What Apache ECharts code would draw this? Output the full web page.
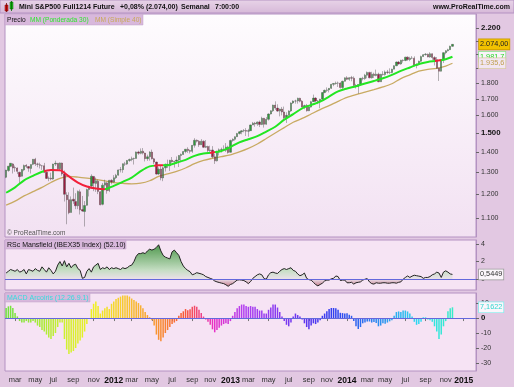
<!DOCTYPE html>
<html><head><meta charset="utf-8">
<script src="https://cdn.jsdelivr.net/npm/echarts@6/dist/echarts.min.js"></script>
<style>html,body{margin:0;padding:0;background:#e2c8e2;}#c{width:514px;height:387px;}</style>
</head><body><div id="c"></div>
<script>
// ---------- DATA ----------
const startDate = '2011-02-04';   // first weekly bar
const weekCount = 210;            // categories on the time axis (incl. empty weeks to Feb 2015)
const monthNames = ['ene','feb','mar','abr','may','jun','jul','ago','sep','oct','nov','dic'];

// weekly candles [open, close, low, high]
const ohlc = [
[1276,1310,1272,1311],[1308,1329,1302,1330],[1328,1343,1324,1344],[1340,1320,1294,1344],[1322,1321,1302,1332],[1320,1304,1291,1323],[1300,1279,1249,1302],[1281,1313,1280,1315],[1311,1332,1305,1337],[1333,1328,1320,1339],
[1327,1319,1302,1330],[1318,1337,1294,1338],[1338,1363,1334,1364],[1363,1340,1330,1370],[1340,1338,1324,1346],[1336,1333,1318,1346],[1331,1331,1311,1335],[1331,1300,1296,1345],[1300,1271,1268,1303],[1272,1271,1258,1280],
[1272,1268,1262,1298],[1268,1339,1265,1341],[1339,1343,1330,1356],[1343,1316,1309,1344],[1317,1345,1305,1347],[1344,1292,1283,1346],[1292,1199,1168,1308],[1196,1176,1075,1208],[1176,1121,1115,1208],[1122,1176,1122,1190],
[1178,1170,1158,1229],[1168,1150,1136,1204],[1150,1212,1136,1216],[1210,1133,1114,1220],[1134,1128,1125,1192],[1126,1151,1066,1170],[1152,1220,1150,1224],[1220,1234,1190,1237],[1236,1281,1225,1290],[1280,1249,1213,1282],
[1248,1260,1210,1275],[1258,1212,1200,1265],[1210,1154,1152,1213],[1156,1240,1152,1250],[1240,1251,1220,1265],[1250,1215,1202,1255],[1216,1262,1209,1264],[1262,1254,1244,1267],
[1254,1274,1252,1286],[1274,1285,1268,1292],[1286,1311,1284,1313],[1312,1312,1299,1325],[1312,1341,1297,1342],[1340,1339,1330,1350],[1339,1357,1335,1359],[1357,1362,1350,1366],[1362,1366,1353,1376],[1366,1367,1337,1371],
[1367,1400,1366,1402],[1400,1393,1385,1406],[1393,1404,1388,1418],[1404,1394,1387,1420],[1394,1366,1352,1396],[1366,1375,1355,1386],[1375,1399,1356,1404],[1399,1365,1362,1412],[1365,1349,1339,1370],[1349,1291,1288,1351],
[1292,1314,1287,1323],[1315,1273,1262,1331],[1273,1321,1258,1326],[1321,1338,1303,1342],[1338,1331,1320,1361],[1331,1358,1306,1360],[1358,1351,1346,1374],[1351,1353,1322,1355],[1353,1359,1340,1377],[1359,1382,1325,1384],
[1382,1387,1352,1392],[1387,1402,1385,1405],[1402,1414,1393,1415],[1414,1407,1395,1424],[1407,1403,1392,1412],[1403,1434,1395,1436],[1434,1461,1422,1472],[1461,1456,1449,1465],[1456,1437,1426,1462],[1437,1456,1436,1467],
[1456,1424,1420,1460],[1424,1428,1420,1462],[1428,1407,1397,1432],[1407,1410,1400,1432],[1410,1375,1368,1430],[1375,1355,1340,1390],[1355,1404,1352,1406],[1404,1411,1382,1418],[1411,1413,1397,1422],[1413,1409,1404,1434],
[1409,1425,1400,1446],[1425,1397,1391,1432],
[1398,1460,1396,1464],[1460,1466,1453,1471],[1466,1480,1459,1482],[1480,1497,1478,1501],[1497,1507,1492,1510],[1507,1512,1493,1515],[1512,1514,1504,1522],[1514,1510,1484,1527],[1510,1513,1480,1523],[1513,1545,1512,1547],
[1545,1555,1544,1562],[1555,1550,1535,1562],[1550,1562,1540,1565],[1562,1548,1533,1570],[1548,1583,1544,1592],[1583,1549,1530,1585],[1549,1577,1546,1590],[1577,1608,1570,1612],[1608,1627,1605,1630],[1627,1661,1620,1664],
[1661,1643,1632,1684],[1643,1625,1620,1666],[1625,1637,1594,1640],[1637,1620,1600,1650],[1620,1586,1570,1652],[1586,1600,1556,1618],[1600,1626,1598,1630],[1626,1674,1620,1678],[1674,1686,1668,1690],[1686,1686,1670,1694],
[1686,1703,1670,1707],[1703,1685,1678,1706],[1685,1650,1648,1692],[1650,1658,1636,1664],[1658,1627,1622,1668],[1627,1649,1625,1660],[1649,1682,1646,1687],[1682,1704,1680,1726],[1704,1686,1680,1710],[1686,1684,1667,1692],
[1684,1697,1642,1700],[1697,1739,1690,1741],[1739,1753,1735,1758],[1753,1756,1742,1772],[1756,1766,1740,1768],[1766,1792,1762,1795],[1792,1798,1780,1800],[1798,1800,1790,1810],[1800,1800,1775,1810],[1800,1771,1765,1806],
[1771,1812,1762,1816],[1812,1835,1810,1838],
[1835,1825,1820,1846],[1825,1836,1815,1840],[1836,1833,1812,1848],[1833,1784,1782,1845],[1784,1777,1765,1795],[1777,1791,1732,1793],[1791,1832,1790,1834],[1832,1830,1818,1842],[1830,1853,1822,1862],[1853,1872,1832,1878],
[1872,1835,1832,1876],[1835,1860,1830,1876],[1860,1851,1834,1870],[1851,1860,1845,1891],[1860,1809,1806,1870],[1809,1859,1808,1862],[1859,1857,1850,1880],[1857,1875,1850,1885],[1875,1872,1860,1889],[1872,1871,1860,1900],
[1871,1894,1866,1897],[1894,1918,1893,1921],[1918,1944,1915,1948],[1944,1930,1926,1952],[1930,1957,1925,1960],[1957,1955,1940,1963],[1955,1979,1950,1982],[1979,1962,1953,1985],[1962,1972,1950,1982],[1972,1972,1965,1987],
[1972,1920,1913,1985],[1920,1925,1900,1935],[1925,1950,1920,1954],[1950,1983,1945,1990],[1983,1997,1980,2002],[1997,2001,1990,2009],[2001,1980,1978,2005],[1980,2004,1975,2015],[2004,1976,1960,2006],[1976,1961,1920,1986],
[1961,1900,1898,1980],[1900,1880,1814,1904],[1880,1958,1878,1962],[1958,2012,1937,2015],[2012,2026,2000,2030],[2026,2034,2020,2041],[2034,2059,2031,2064],[2059,2074,2055,2076]
];

// moving averages: [weekIndex, value]
const wmaPoints = [[0,1206],[4,1230],[8,1262],[12,1283],[16,1302],[20,1311],[24,1309],[28,1280],[32,1252],[36,1234],[40,1225],[44,1222],
[48,1237],[52,1255],[56,1275],[60,1305],[64,1328],[68,1333],[72,1334],[76,1346],[80,1360],[84,1380],[88,1392],[92,1397],[96,1405],
[100,1425],[104,1450],[108,1466],[112,1483],[116,1508],[120,1535],[124,1575],[128,1607],[132,1642],[136,1662],[140,1682],[144,1714],
[148,1746],[152,1765],[156,1780],[160,1798],[164,1814],[168,1832],[172,1855],[176,1882],[180,1906],[184,1930],[188,1945],[192,1953],[196,1964],[199,1981.7]];
const smaPoints = [[0,1153],[4,1170],[8,1192],[12,1211],[16,1230],[20,1252],[24,1271],[28,1280],[32,1277],[36,1272],[40,1266],[44,1259],
[48,1251],[52,1248],[56,1246],[60,1249],[64,1260],[68,1280],[72,1292],[76,1304],[80,1320],[84,1341],[88,1357],[92,1368],[96,1376],
[100,1385],[104,1400],[108,1418],[112,1441],[116,1470],[120,1500],[124,1530],[128,1560],[132,1582],[136,1608],[140,1634],[144,1658],
[148,1684],[152,1708],[156,1726],[160,1742],[164,1758],[168,1775],[172,1796],[176,1830],[180,1855],[184,1880],[188,1893],[192,1900],[196,1916],[199,1935.6]];
// WMA declining stretches (drawn red): [fromIndex, toIndex)
const wmaRedRanges = [[17,44],[66,70],[91,93],[191,194]];

const rscValues = [
0.7,0.9,1.1,1.0,0.9,1.1,0.8,0.9,1.1,0.6,
1.1,1.0,0.9,1.2,1.0,0.9,1.4,1.1,0.8,1.3,
1.0,0.6,0.9,1.6,2.0,1.5,2.1,1.4,1.8,1.3,
1.6,1.7,1.2,1.0,0.1,0.2,0.9,1.2,0.8,1.4,
1.6,1.8,1.1,1.3,1.2,1.4,1.1,1.3,1.2,1.3,
1.2,1.1,1.3,1.2,1.3,1.5,1.6,2.0,2.6,2.9,
2.9,3.0,2.9,3.2,3.4,3.3,3.4,3.6,3.9,3.2,
2.7,2.5,2.4,2.3,3.1,3.3,3.0,2.7,2.0,1.5,
1.2,1.0,0.85,0.5,0.6,0.74,0.67,0.6,0.5,0.3,
0.2,0.1,0.0,-0.2,-0.3,-0.37,-0.44,-0.5,-0.63,-0.8,
-0.6,-0.5,-0.3,-0.1,-0.07,-0.1,-0.15,-0.3,-0.5,-0.26,
0.1,0.3,0.5,0.6,0.5,0.07,0.0,0.5,0.74,0.8,
0.7,0.65,0.9,1.1,1.2,1.1,1.2,1.3,1.0,0.9,
0.6,0.4,0.5,0.7,0.1,-0.05,-0.1,-0.35,-0.6,-0.75,
-0.6,-0.45,-0.2,-0.1,-0.1,0.05,0.1,0.37,0.3,-0.15,
-0.1,-0.1,-0.4,-0.4,-0.35,-0.55,-0.4,-0.35,-0.3,-0.1,
0.0,0.07,-0.3,-0.5,-0.55,-0.4,-0.45,-0.45,-0.4,-0.4,
-0.45,-0.45,-0.4,-0.4,-0.45,-0.35,-0.3,0.0,0.2,0.37,
0.2,0.35,0.45,0.4,0.35,0.3,0.1,0.2,0.2,0.3,
0.5,0.6,0.8,0.7,0.2,0.8,0.95,0.8,0.6,0.5449];

const macdValues = [
6.7,7.8,8.2,6.7,3.3,1.1,-2,-3,-3,-2,
-3,-3,-2,-3,-5,-6,-8,-9,-11,-13,
-14,-12,-10,-6,-3,-3,-14,-21,-24,-23,
-22,-20,-17,-15,-13,-9,-4,-0.5,6,9.5,
11,8,3,5,6.5,7.5,6,9.5,11,12.7,
13.5,14.3,15,15,15,14.3,13,12,11,10,
8.5,6.5,4,2,0.5,-1.5,-5,-11,-14.5,-15.5,
-13,-10,-8,-6,-4,-3,-2,1.5,3.3,4.5,
6,5.2,5.8,7.5,8.2,7.5,5.5,3.3,1,-1,
-2.5,-4.5,-7.5,-9.5,-8,-6.5,-5,-4,-3.5,-4,
-2,1.5,4,6.5,8,9,9,8,7.5,8,
7.5,7.5,6,5,5,3,3,5.5,7,9,
9,7,4,1,-2,-4.5,-5.5,-3,1,3,
2,1,-1,-3.5,-6,-7.5,-5,-3.5,-4,-3,
-1.5,1.5,3,4.5,6,6.7,6.7,6.5,5.5,3.5,
3.3,3,3.2,2.2,1.5,-2,-5.5,-7.3,-6,-3.5,
-3,-2.3,-2.3,-3,-2.7,-3.3,-5.5,-5,-3.5,-3.8,
-3,-2.2,-1.5,1.5,4,4.4,4,5,5,4.4,
3,1,-2.5,-4.5,-4,-2.5,0.5,0.5,-1,-1.5,
-2.5,-5.5,-9,-14,-11,-5.5,-2,4.5,6.5,7.1622];

const priceTicks = [1100,1200,1300,1400,1500,1600,1700,1800,1900,2000,2100,2200];
const priceLabelTicks = [1100,1200,1300,1400,1500,1600,1700,1800,2200]; // 1.900-2.100 sit under the value boxes
const priceBoldTicks = [1500,2200];
const rscTicks = [0,2,4];
const macdTicks = [-30,-20,-10,0,10];

// ---------- BUILD ----------
const categories = [];
const t0 = Date.parse(startDate + 'T00:00:00Z');
for (let i = 0; i < weekCount; i++) categories.push(new Date(t0 + i * 7 * 864e5).toISOString().slice(0, 10));

const fmtNum = (v, d) => {
  const s = Math.abs(v).toFixed(d); const parts = s.split('.');
  let ip = parts[0]; if (ip.length > 3) ip = ip.slice(0, -3) + '.' + ip.slice(-3);
  return (v < 0 ? '-' : '') + ip + (parts[1] ? ',' + parts[1] : '');
};
const lastClose = ohlc[ohlc.length - 1][1];
const lastWma = wmaPoints[wmaPoints.length - 1][1];
const lastSma = smaPoints[smaPoints.length - 1][1];
const lastRsc = rscValues[rscValues.length - 1];
const lastMacd = macdValues[macdValues.length - 1];

const G = '#22e622', R = '#f2203a', TAN = '#c8aa62';
const wmaPieces = [];
let prev = -1;
wmaRedRanges.forEach(r => { wmaPieces.push({gte: prev, lt: r[0], color: G}); wmaPieces.push({gte: r[0], lt: r[1], color: R}); prev = r[1]; });
wmaPieces.push({gte: prev, lte: 1000, color: G});

const isLabelWeek = (i, v) => { const d = new Date(v + 'T00:00:00Z'); return d.getUTCDate() <= 7 && d.getUTCMonth() % 2 === 0; };
const FONT = 'Liberation Sans, Arial, sans-serif';
const FS = 7;
const border = '#b492c2';
const gridCommon = {left: 5, right: 38, show: true, borderColor: border, borderWidth: 1};
const hiddenX = (gi) => ({type: 'category', gridIndex: gi, data: categories, boundaryGap: true, axisLine: {show: false}, axisTick: {show: false}, axisLabel: {show: false}, splitLine: {show: false}});
const rightY = (gi, extra) => Object.assign({gridIndex: gi, position: 'right', splitLine: {show: false},
  axisLine: {show: true, lineStyle: {color: border}}}, extra);
const boxLabel = (txt, color, bg, bc) => ({position: 'end', distance: 3, formatter: txt, color: color, backgroundColor: bg, borderColor: bc, borderWidth: 0.8,
  padding: [2, 1, 1, 1], fontSize: FS + 0.3, fontFamily: FONT});
const markLab = (val, txt, color, bg, bc) => ({silent: true, symbol: 'none', animation: false,
  lineStyle: {color: 'transparent', width: 0}, data: [{yAxis: val}], label: boxLabel(txt, color, bg, bc)});

const chart = echarts.init(document.getElementById('c'));
chart.setOption({
  animation: false,
  backgroundColor: '#e2c8e2',
  textStyle: {fontFamily: FONT},
  grid: [
    Object.assign({top: 14, height: 223, backgroundColor: new echarts.graphic.LinearGradient(0, 0, 0, 1, [{offset: 0, color: '#fefcfe'}, {offset: 1, color: '#f2e1f2'}])}, gridCommon),
    Object.assign({top: 240, height: 50, backgroundColor: '#f6e4f4'}, gridCommon),
    Object.assign({top: 293, height: 78, backgroundColor: '#f6e3f4'}, gridCommon)
  ],
  xAxis: [hiddenX(0), hiddenX(1), {
    type: 'category', gridIndex: 2, data: categories, boundaryGap: true,
    axisLine: {show: false},
    axisTick: {show: true, length: 3, interval: isLabelWeek, alignWithLabel: true, lineStyle: {color: '#777'}},
    axisLabel: {interval: isLabelWeek, margin: 5, fontSize: FS + 0.5, color: '#333', fontFamily: FONT,
      formatter: v => { const d = new Date(v + 'T00:00:00Z'); const m = d.getUTCMonth(); return m === 0 ? '{y|' + d.getUTCFullYear() + '}' : monthNames[m]; },
      rich: {y: {fontSize: 8.5, fontWeight: 'bold', color: '#111', fontFamily: FONT}}},
    splitLine: {show: false}
  }],
  yAxis: [
    rightY(0, {type: 'log', logBase: 10, min: 1026, max: 2317,
      axisTick: {show: true, length: 3, customValues: priceTicks, lineStyle: {color: '#666'}},
      axisLabel: {customValues: priceLabelTicks, fontSize: FS, color: '#333', margin: 5, fontFamily: FONT,
        formatter: v => { const r = Math.round(v); const s = fmtNum(r, 0); return priceBoldTicks.includes(r) ? '{b|' + s + '}' : s; },
        rich: {b: {fontWeight: 'bold', color: '#111', fontSize: FS + 0.8, fontFamily: FONT}}}}),
    rightY(1, {type: 'value', min: -1.22, max: 4.44,
      axisTick: {show: true, length: 3, customValues: rscTicks, lineStyle: {color: '#666'}},
      axisLabel: {customValues: rscTicks, fontSize: FS, color: '#333', margin: 5, fontFamily: FONT}}),
    rightY(2, {type: 'value', min: -35.3, max: 16.7,
      axisTick: {show: true, length: 3, customValues: macdTicks, lineStyle: {color: '#666'}},
      axisLabel: {customValues: macdTicks, fontSize: FS, color: '#333', margin: 5, fontFamily: FONT,
        formatter: v => v === 0 ? '{b|0}' : String(v), rich: {b: {fontWeight: 'bold', color: '#111', fontSize: FS + 0.8, fontFamily: FONT}}}})
  ],
  visualMap: [
    {type: 'piecewise', show: false, seriesIndex: 1, dimension: 0, pieces: wmaPieces},
    {type: 'continuous', show: false, seriesIndex: 3, dimension: 1, min: -2, max: 4,
      inRange: {color: ['#a03048', '#ba6272', '#ebe0ea', '#c6dec4', '#9cc69a', '#74ae72', '#4c944c']}},
    {type: 'continuous', show: false, seriesIndex: 4, dimension: 0, min: 0, max: 199,
      inRange: {color: ['#70e040', '#a0ea38', '#d0f030', '#f0f020', '#f8c830', '#f89830', '#f85838', '#e830c8', '#b040f0', '#8c3cf0', '#6034f0', '#3040f0', '#2c70f0', '#2ca8f0', '#30e0f0', '#38ecc8']}}
  ],
  series: [
    {type: 'candlestick', xAxisIndex: 0, yAxisIndex: 0, data: ohlc, barWidth: 1.8,
      itemStyle: {color: '#2f9a3c', color0: '#9a1c40', borderColor: '#444', borderColor0: '#444', borderWidth: 0.4},
      markLine: markLab(lastClose, fmtNum(lastClose, 2), '#222', '#f2c200', '#c89a00'), z: 3},
    {type: 'line', xAxisIndex: 0, yAxisIndex: 0, data: wmaPoints, smooth: 0.3, showSymbol: false, connectNulls: true,
      lineStyle: {width: 2}, z: 4,
      markLine: markLab(lastWma, fmtNum(lastWma, 1), '#22d822', '#faf4fa', '#8ce08c')},
    {type: 'line', xAxisIndex: 0, yAxisIndex: 0, data: smaPoints, smooth: 0.3, showSymbol: false, connectNulls: true,
      lineStyle: {width: 1.3, color: TAN}, itemStyle: {color: TAN}, z: 2,
      markLine: markLab(lastSma, fmtNum(lastSma, 1), '#c0a050', '#f2e6f2', '#d8c8a0')},
    {type: 'line', xAxisIndex: 1, yAxisIndex: 1, data: rscValues, showSymbol: false,
      lineStyle: {width: 1, color: '#222'}, areaStyle: {opacity: 1},
      markLine: {silent: true, symbol: 'none', animation: false, data: [{yAxis: 0, label: {show: false}, lineStyle: {color: '#6468dc', width: 1, type: 'solid'}},
        {yAxis: lastRsc, lineStyle: {color: 'transparent', width: 0}, label: boxLabel(fmtNum(lastRsc, 4), '#333', '#fbf6fb', '#999')}]}},
    {type: 'bar', xAxisIndex: 2, yAxisIndex: 2, data: macdValues, barWidth: 1.5,
      markLine: {silent: true, symbol: 'none', animation: false, data: [{yAxis: 0, label: {show: false}, lineStyle: {color: '#6468dc', width: 1, type: 'solid'}},
        {yAxis: lastMacd, lineStyle: {color: 'transparent', width: 0}, label: boxLabel(fmtNum(lastMacd, 4), '#30d8d0', '#fbf6fb', '#8ee')}]}}
  ],
  graphic: [
    {type: 'rect', z: 100, shape: {x: 0, y: 0, width: 514, height: 13}, style: {fill: new echarts.graphic.LinearGradient(0, 0, 0, 1, [{offset: 0, color: '#e8d4e8'}, {offset: 1, color: '#d6b8d8'}]), stroke: border, lineWidth: 1}},
    {type: 'rect', z: 101, shape: {x: 5, y: 5, width: 3, height: 6}, style: {fill: '#e02020', stroke: '#700', lineWidth: 0.5}},
    {type: 'line', z: 101, shape: {x1: 6.5, y1: 3, x2: 6.5, y2: 12}, style: {stroke: '#700', lineWidth: 0.8}},
    {type: 'rect', z: 101, shape: {x: 10, y: 2, width: 3, height: 7}, style: {fill: '#20c020', stroke: '#060', lineWidth: 0.5}},
    {type: 'line', z: 101, shape: {x1: 11.5, y1: 1, x2: 11.5, y2: 11}, style: {stroke: '#060', lineWidth: 0.8}},
    {type: 'text', z: 101, x: 19, y: 7, style: {text: 'Mini S&P500 Full1214 Future', font: 'bold 7px ' + FONT, fill: '#111', textVerticalAlign: 'middle'}},
    {type: 'text', z: 101, x: 120, y: 7, style: {text: '+0,08% (2.074,00)', font: 'bold 7px ' + FONT, fill: '#111', textVerticalAlign: 'middle'}},
    {type: 'text', z: 101, x: 181, y: 7, style: {text: 'Semanal', font: 'bold 7px ' + FONT, fill: '#111', textVerticalAlign: 'middle'}},
    {type: 'text', z: 101, x: 215, y: 7, style: {text: '7:00:00', font: 'bold 7px ' + FONT, fill: '#111', textVerticalAlign: 'middle'}},
    {type: 'text', z: 101, x: 510, y: 7, style: {text: 'www.ProRealTime.com', font: 'bold 7px ' + FONT, fill: '#111', textAlign: 'right', textVerticalAlign: 'middle'}},
    {type: 'rect', z: 100, shape: {x: 5, y: 14, width: 138, height: 11}, style: {fill: '#d8b8dc', stroke: '#c0a0c8', lineWidth: 0.5}},
    {type: 'text', z: 101, x: 7, y: 20, style: {text: 'Precio', font: '6.6px ' + FONT, fill: '#111', textVerticalAlign: 'middle'}},
    {type: 'text', z: 101, x: 30, y: 20, style: {text: 'MM (Ponderada 30)', font: '6.6px ' + FONT, fill: '#2ee62e', textVerticalAlign: 'middle'}},
    {type: 'text', z: 101, x: 95, y: 20, style: {text: 'MM (Simple 40)', font: '6.6px ' + FONT, fill: '#c8a858', textVerticalAlign: 'middle'}},
    {type: 'text', z: 101, x: 7, y: 233, style: {text: '© ProRealTime.com', font: '6.5px ' + FONT, fill: '#555', textVerticalAlign: 'middle'}},
    {type: 'rect', z: 100, shape: {x: 5, y: 240, width: 121, height: 9}, style: {fill: '#d8b8dc', stroke: '#c0a0c8', lineWidth: 0.5}},
    {type: 'text', z: 101, x: 7, y: 245, style: {text: 'RSc Mansfield (IBEX35 Index) (52.10)', font: '7px ' + FONT, fill: '#111', textVerticalAlign: 'middle'}},
    {type: 'rect', z: 100, shape: {x: 5, y: 293, width: 85, height: 9}, style: {fill: '#d8b8dc', stroke: '#c0a0c8', lineWidth: 0.5}},
    {type: 'text', z: 101, x: 7, y: 298, style: {text: 'MACD Arcoiris (12.26.9.1)', font: '7px ' + FONT, fill: '#36dcdc', textVerticalAlign: 'middle'}}
  ]
});
</script>
</body></html>
